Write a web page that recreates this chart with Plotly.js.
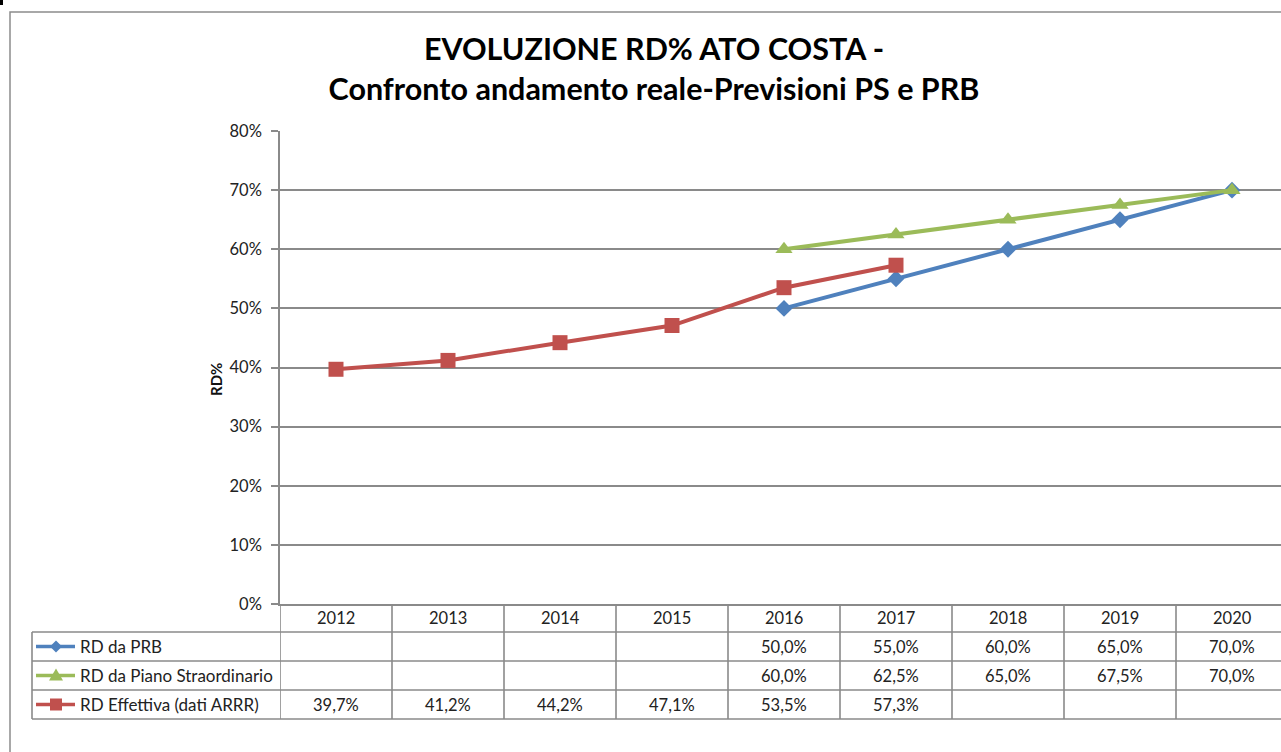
<!DOCTYPE html>
<html>
<head>
<meta charset="utf-8">
<script src="https://cdn.plot.ly/plotly-3.0.1.min.js"></script>
<style>
html,body{margin:0;padding:0;background:#fff;overflow:hidden;}
#chart{width:1281px;height:752px;}
</style>
</head>
<body>
<div id="chart"></div>
<script>
// ---- data ----
const years = ['2012','2013','2014','2015','2016','2017','2018','2019','2020'];
const rdPRB = [null, null, null, null, 0.50, 0.55, 0.60, 0.65, 0.70];
const rdPianoStraordinario = [null, null, null, null, 0.60, 0.625, 0.65, 0.675, 0.70];
const rdEffettiva = [0.397, 0.412, 0.442, 0.471, 0.535, 0.573, null, null, null];
const seriesNames = ['RD da PRB', 'RD da Piano Straordinario', 'RD Effettiva (dati ARRR)'];
const yTickVals = [0, 0.1, 0.2, 0.3, 0.4, 0.5, 0.6, 0.7, 0.8];

// ---- layout helpers (pixels -> paper) ----
const W = 1281, H = 752;
const px = x => x / W;
const py = y => 1 - y / H;
const FONT = 'Lato, "Open Sans", sans-serif';
const GRID = '#8a8a8a';
const colors = ['#4F81BD', '#9BBB59', '#C0504D'];
const symbols = ['diamond', 'triangle-up', 'square'];
const msizes = [13, 15, 15];
const allSeries = [rdPRB, rdPianoStraordinario, rdEffettiva];

const traces = allSeries.map((vals, i) => ({
  type: 'scatter', mode: 'lines+markers', name: seriesNames[i],
  x: years, y: vals, connectgaps: false,
  line: {color: colors[i], width: 4},
  marker: {color: colors[i], symbol: symbols[i], size: msizes[i]},
  hoverinfo: 'x+y'
}));

// table rows (pixel y)
const rowTop = [604, 632, 661, 690, 719];
const shapes = [];
const annotations = [];
// outer frame
shapes.push({type:'rect', xref:'paper', yref:'paper', x0:px(10), x1:px(1300), y0:py(12), y1:py(770),
  line:{color:'#8c8c8c', width:1.5}});
// tiny mark top-left
shapes.push({type:'rect', xref:'paper', yref:'paper', x0:0, x1:px(3), y0:py(0), y1:py(5),
  fillcolor:'#000', line:{width:0}});
// horizontal table lines
for (let r = 1; r < rowTop.length; r++) {
  shapes.push({type:'line', xref:'paper', yref:'paper', x0:px(32), x1:px(1300), y0:py(rowTop[r]), y1:py(rowTop[r]),
    line:{color:GRID, width:1.6}});
}
// left border of label column
shapes.push({type:'line', xref:'paper', yref:'paper', x0:px(32), x1:px(32), y0:py(632), y1:py(719),
  line:{color:GRID, width:1.6}});
// vertical lines at category boundaries
for (let k = 0; k <= years.length; k++) {
  shapes.push({type:'line', xref:'x', yref:'paper', x0:k - 0.5, x1:k - 0.5, y0:py(604), y1:py(719),
    line:{color:GRID, width:1.6}});
}
// header years and values
const fmt = v => (v * 100).toFixed(1).replace('.', ',') + '%';
const rowCenter = r => (rowTop[r] + rowTop[r + 1]) / 2;
years.forEach((yr, k) => {
  annotations.push({xref:'x', yref:'paper', x:k, y:py(rowCenter(0)), text:yr, showarrow:false,
    xanchor:'center', yanchor:'middle', font:{family:FONT, size:16.5, color:'#222'}});
  allSeries.forEach((vals, i) => {
    if (vals[k] !== null) {
      annotations.push({xref:'x', yref:'paper', x:k, y:py(rowCenter(i + 1)), text:fmt(vals[k]), showarrow:false,
        xanchor:'center', yanchor:'middle', font:{family:FONT, size:16.5, color:'#222'}});
    }
  });
});
// legend keys in table
seriesNames.forEach((nm, i) => {
  const cy = rowCenter(i + 1);
  shapes.push({type:'line', xref:'paper', yref:'paper', x0:px(36), x1:px(75), y0:py(cy), y1:py(cy),
    line:{color:colors[i], width:3.5}});
  let path;
  const cx = 56;
  if (i === 0) {
    path = `M ${px(cx-6)} ${py(cy)} L ${px(cx)} ${py(cy-6)} L ${px(cx+6)} ${py(cy)} L ${px(cx)} ${py(cy+6)} Z`;
  } else if (i === 1) {
    path = `M ${px(cx-7)} ${py(cy+5)} L ${px(cx)} ${py(cy-7)} L ${px(cx+7)} ${py(cy+5)} Z`;
  } else {
    path = `M ${px(cx-6)} ${py(cy-6)} L ${px(cx+6)} ${py(cy-6)} L ${px(cx+6)} ${py(cy+6)} L ${px(cx-6)} ${py(cy+6)} Z`;
  }
  shapes.push({type:'path', xref:'paper', yref:'paper', path:path, fillcolor:colors[i], line:{width:0}});
  annotations.push({xref:'paper', yref:'paper', x:px(78), y:py(cy), text:nm, showarrow:false,
    xanchor:'left', yanchor:'middle', font:{family:FONT, size:17, color:'#222'}});
});
// y-axis title
annotations.push({xref:'paper', yref:'paper', x:px(216), y:py(380), text:'<b>RD%</b>', textangle:-90, showarrow:false,
  xanchor:'center', yanchor:'middle', font:{family:FONT, size:15, color:'#111'}});

const layout = {
  width: W, height: H,
  margin: {l:0, r:0, t:0, b:0},
  paper_bgcolor: '#fff', plot_bgcolor: '#fff',
  showlegend: false,
  title: {text: '<b>EVOLUZIONE RD% ATO COSTA -<br>Confronto andamento reale-Previsioni PS e PRB</b>',
    x: px(654), xanchor: 'center', xref: 'paper', y: py(60), yanchor: 'middle', yref: 'container',
    font: {family: FONT, size: 30.5, color: '#000'}},
  xaxis: {type:'category', domain:[px(280), 1], range:[-0.5, -0.5 + (1281 - 280) / 112],
    showticklabels:false, ticks:'', showgrid:false, zeroline:false,
    showline:true, linecolor:GRID, linewidth:1.6, fixedrange:true},
  yaxis: {domain:[py(604), py(131)], range:[0, 0.8], tickvals:yTickVals, tickformat:'.0%',
    showgrid:true, gridcolor:GRID, gridwidth:1.6, zeroline:false,
    showline:true, linecolor:GRID, linewidth:1.6, ticks:'outside', ticklen:7, tickcolor:GRID, tickwidth:1.6,
    ticklabelstandoff:6,
    tickfont:{family:FONT, size:16.5, color:'#222'}, fixedrange:true},
  shapes: shapes,
  annotations: annotations
};

Plotly.newPlot('chart', traces, layout, {displayModeBar:false});
</script>
</body>
</html>
